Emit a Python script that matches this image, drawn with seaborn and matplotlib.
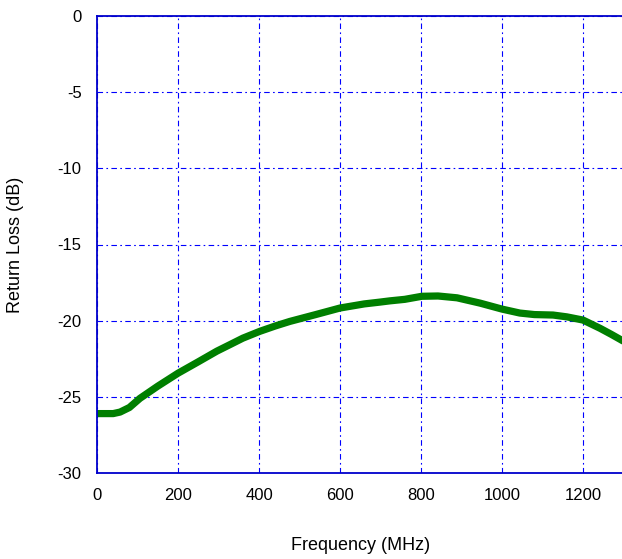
import matplotlib
matplotlib.use('Agg')
import matplotlib.pyplot as plt
import seaborn as sns
import pandas as pd

# values
freq_mhz = [0, 20, 40, 57, 80, 106, 150, 200, 250, 296, 330, 360, 402, 440, 476, 540,
            600, 660, 699, 723, 760, 802, 842, 889, 946, 1000, 1044, 1080, 1126,
            1160, 1200, 1242, 1270, 1300]
return_loss_db = [-26.1, -26.1, -26.1, -26.0, -25.7, -25.1, -24.3, -23.45, -22.7, -22.0,
                  -21.55, -21.15, -20.7, -20.35, -20.05, -19.6, -19.17, -18.9, -18.78,
                  -18.7, -18.6, -18.4, -18.38, -18.5, -18.85, -19.24, -19.5, -19.6,
                  -19.63, -19.75, -19.96, -20.5, -20.9, -21.35]

x_ticks = [0, 200, 400, 600, 800, 1000, 1200]
y_ticks = [0, -5, -10, -15, -20, -25, -30]

df = pd.DataFrame({'freq': freq_mhz, 'rl': return_loss_db})

sns.set_style('white')
plt.rcParams['font.family'] = ['Liberation Sans', 'DejaVu Sans']
plt.rcParams['text.color'] = 'black'
plt.rcParams['axes.labelcolor'] = 'black'
plt.rcParams['xtick.color'] = 'black'
plt.rcParams['ytick.color'] = 'black'

fig = plt.figure(figsize=(6.22, 5.59), dpi=100)
ax = fig.add_axes([97 / 622, 86 / 559, 526.5 / 622, 457 / 559])

sns.lineplot(data=df, x='freq', y='rl', ax=ax, color='#007f00', linewidth=5.2)

ax.set_xlim(0, 1300)
ax.set_ylim(-30, 0)
ax.set_xticks(x_ticks)
ax.set_yticks(y_ticks)
ax.set_yticklabels([str(v) for v in y_ticks])
ax.tick_params(length=0, labelsize=12, pad=11)

ax.grid(True, color='#0000ff', linewidth=0.8, linestyle=(0, (5, 3, 1.5, 3)))
for s in ax.spines.values():
    s.set_color('#0000cc')
    s.set_linewidth(1.3)

ax.set_xlabel('Frequency (MHz)', fontsize=13, labelpad=24)
ax.set_ylabel('Return Loss (dB)', fontsize=13, labelpad=24)

fig.savefig('out.png', dpi=100)
